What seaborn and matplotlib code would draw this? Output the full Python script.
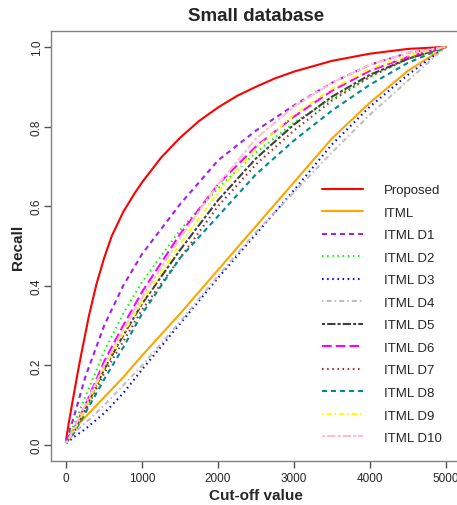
import matplotlib
matplotlib.use("Agg")
import matplotlib.pyplot as plt
import pandas as pd
import seaborn as sns

# Cut-off values on the x axis (the proposed method is sampled more densely)
cutoff = [0, 50, 100, 250, 500, 750, 1000, 1500, 2000, 2500, 3000, 3500, 4000, 4500, 5000]
cutoff_proposed = [0, 25, 50, 100, 150, 200, 300, 400, 500, 600, 750, 900, 1000, 1250,
                   1500, 1750, 2000, 2250, 2500, 2750, 3000, 3500, 4000, 4500, 5000]

# Recall for each method at the cut-off values
proposed = [0.015, 0.045, 0.073, 0.127, 0.18, 0.23, 0.325, 0.405, 0.47, 0.525, 0.585, 0.632,
            0.66, 0.722, 0.772, 0.814, 0.848, 0.877, 0.9, 0.921, 0.938, 0.965, 0.983, 0.995, 1.0]
itml     = [0.01, 0.025, 0.04, 0.07, 0.12, 0.17, 0.225, 0.33, 0.44, 0.55, 0.66, 0.77, 0.86, 0.94, 1.0]
itml_d1  = [0.01, 0.04, 0.07, 0.17, 0.30, 0.40, 0.48, 0.605, 0.715, 0.79, 0.853, 0.91, 0.955, 0.985, 1.0]
itml_d2  = [0.01, 0.03, 0.05, 0.12, 0.235, 0.33, 0.41, 0.54, 0.645, 0.735, 0.81, 0.87, 0.925, 0.97, 1.0]
itml_d3  = [0.005, 0.012, 0.02, 0.04, 0.08, 0.13, 0.19, 0.305, 0.42, 0.53, 0.64, 0.755, 0.85, 0.93, 1.0]
itml_d4  = [0.005, 0.018, 0.03, 0.055, 0.10, 0.15, 0.20, 0.31, 0.425, 0.535, 0.635, 0.735, 0.83, 0.915, 1.0]
itml_d5  = [0.005, 0.02, 0.035, 0.09, 0.19, 0.275, 0.355, 0.49, 0.615, 0.72, 0.805, 0.875, 0.93, 0.97, 1.0]
itml_d6  = [0.01, 0.025, 0.04, 0.10, 0.21, 0.30, 0.385, 0.53, 0.655, 0.75, 0.825, 0.89, 0.94, 0.975, 1.0]
itml_d7  = [0.005, 0.018, 0.03, 0.085, 0.18, 0.26, 0.34, 0.47, 0.60, 0.705, 0.79, 0.865, 0.925, 0.97, 1.0]
itml_d8  = [0.005, 0.018, 0.03, 0.08, 0.165, 0.245, 0.33, 0.47, 0.575, 0.68, 0.765, 0.84, 0.905, 0.96, 1.0]
itml_d9  = [0.005, 0.02, 0.035, 0.09, 0.195, 0.28, 0.36, 0.505, 0.635, 0.745, 0.83, 0.895, 0.945, 0.978, 1.0]
itml_d10 = [0.005, 0.022, 0.04, 0.10, 0.20, 0.29, 0.37, 0.52, 0.655, 0.77, 0.85, 0.91, 0.955, 0.985, 1.0]

labels = ["Proposed", "ITML", "ITML D1", "ITML D2", "ITML D3", "ITML D4",
          "ITML D5", "ITML D6", "ITML D7", "ITML D8", "ITML D9", "ITML D10"]
series = [proposed, itml, itml_d1, itml_d2, itml_d3, itml_d4,
          itml_d5, itml_d6, itml_d7, itml_d8, itml_d9, itml_d10]
xs = [cutoff_proposed] + [cutoff] * 11

colors = ["#FF0000", "#FFA500", "#A020F0", "#00FF00", "#0000FF", "#BEBEBE",
          "#3F3F3F", "#FF00FF", "#A52A2A", "#008B8B", "#FFFF00", "#FFC0CB"]

solid = "-"
dashed = (0, (3.6, 2.9))
dotted = (0, (1.1, 2.6))
dotdash = (0, (1.1, 2.2, 3.6, 2.2))
longdash = (0, (7.0, 2.9))
twodash = (0, (2.2, 1.5, 6.0, 1.5))
styles = [solid, solid, dashed, dotted, dotted, dotdash,
          twodash, longdash, dotted, dashed, dotdash, twodash]

df = pd.DataFrame({"cutoff": [v for x in xs for v in x],
                   "recall": [v for s in series for v in s],
                   "method": [lab for lab, x in zip(labels, xs) for _ in x]})

sns.set_style("white")
plt.rcParams["font.family"] = ["Liberation Sans", "DejaVu Sans"]
plt.rcParams["lines.scale_dashes"] = False

fig = plt.figure(figsize=(4.57, 5.06), dpi=100)
ax = fig.add_axes([51 / 457, 44 / 506, 410 / 457, 430 / 506])

for lab, col, ls in zip(labels, colors, styles):
    sub = df[df["method"] == lab]
    sns.lineplot(data=sub, x="cutoff", y="recall", color=col, linestyle=ls,
                 linewidth=1.5, label=lab, ax=ax, estimator=None, sort=False)

ax.set_xlim(-200, 5200)
ax.set_ylim(-0.04, 1.04)
ax.set_xticks([0, 1000, 2000, 3000, 4000, 5000])
ax.set_yticks([0.0, 0.2, 0.4, 0.6, 0.8, 1.0])
ax.set_xticklabels(["0", "1000", "2000", "3000", "4000", "5000"], fontsize=8.5)
ax.set_yticklabels(["0.0", "0.2", "0.4", "0.6", "0.8", "1.0"], fontsize=8.5,
                   rotation=90, va="center")
ax.tick_params(direction="out", length=5, width=1, color="#555555",
               bottom=True, left=True)
ax.tick_params(axis="x", pad=3)
ax.tick_params(axis="y", pad=1)
for sp in ax.spines.values():
    sp.set_color("#808080")
    sp.set_linewidth(1)

ax.set_xlabel("Cut-off value", fontsize=11, fontweight="bold", labelpad=3)
ax.set_ylabel("Recall", fontsize=11, fontweight="bold", labelpad=4)
ax.set_title("Small database", fontsize=13.5, fontweight="bold", pad=8)

ax.legend(loc="upper left", bbox_to_anchor=(322 / 457, 1 - 185 / 506),
          bbox_transform=fig.transFigure, frameon=False, fontsize=9.5,
          handlelength=3.1, handletextpad=1.6, labelspacing=0.78,
          borderpad=0, borderaxespad=0)

fig.savefig("out.png", dpi=100)
